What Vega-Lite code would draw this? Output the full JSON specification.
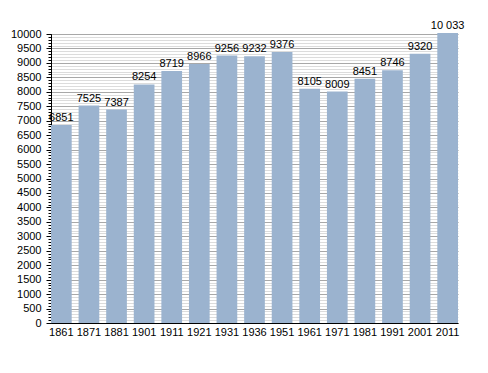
{
  "$schema": "https://vega.github.io/schema/vega-lite/v6.json",
  "autosize": {"type": "none"},
  "padding": {"left": 51, "top": 34, "right": 30, "bottom": 50},
  "width": 407,
  "height": 289,
  "background": "white",
  "config": {"view": {"stroke": null}, "font": "Liberation Sans"},
  "data": {"values": [
    {"year": "1861", "pop": 6851, "label": "6851"},
    {"year": "1871", "pop": 7525, "label": "7525"},
    {"year": "1881", "pop": 7387, "label": "7387"},
    {"year": "1901", "pop": 8254, "label": "8254"},
    {"year": "1911", "pop": 8719, "label": "8719"},
    {"year": "1921", "pop": 8966, "label": "8966"},
    {"year": "1931", "pop": 9256, "label": "9256"},
    {"year": "1936", "pop": 9232, "label": "9232"},
    {"year": "1951", "pop": 9376, "label": "9376"},
    {"year": "1961", "pop": 8105, "label": "8105"},
    {"year": "1971", "pop": 8009, "label": "8009"},
    {"year": "1981", "pop": 8451, "label": "8451"},
    {"year": "1991", "pop": 8746, "label": "8746"},
    {"year": "2001", "pop": 9320, "label": "9320"},
    {"year": "2011", "pop": 10033, "label": "10 033"}
  ]},
  "resolve": {"axis": {"y": "independent"}},
  "encoding": {
    "x": {"field": "year", "type": "ordinal", "sort": null,
      "scale": {"paddingInner": 0.25, "paddingOuter": 0},
      "axis": {"title": null, "labelAngle": 0, "ticks": false, "domainColor": "black", "labelColor": "black", "labelFontSize": 11, "labelPadding": 3, "grid": false}}
  },
  "layer": [
    {
      "mark": {"type": "rule", "opacity": 0},
      "encoding": {
        "y": {"field": "pop", "type": "quantitative",
          "scale": {"domain": [0, 10000], "nice": false},
          "axis": {"orient": "left", "title": null, "values": [0,100,200,300,400,500,600,700,800,900,1000,1100,1200,1300,1400,1500,1600,1700,1800,1900,2000,2100,2200,2300,2400,2500,2600,2700,2800,2900,3000,3100,3200,3300,3400,3500,3600,3700,3800,3900,4000,4100,4200,4300,4400,4500,4600,4700,4800,4900,5000,5100,5200,5300,5400,5500,5600,5700,5800,5900,6000,6100,6200,6300,6400,6500,6600,6700,6800,6900,7000,7100,7200,7300,7400,7500,7600,7700,7800,7900,8000,8100,8200,8300,8400,8500,8600,8700,8800,8900,9000,9100,9200,9300,9400,9500,9600,9700,9800,9900,10000],
            "labels": false, "domain": false, "tickSize": 3, "tickColor": "black", "grid": true, "gridColor": "#dcdcdc", "gridWidth": 1}}
      }
    },
    {
      "mark": {"type": "rule", "opacity": 0},
      "encoding": {
        "y": {"field": "pop", "type": "quantitative",
          "scale": {"domain": [0, 10000], "nice": false},
          "axis": {"orient": "left", "title": null, "format": "d", "values": [0,500,1000,1500,2000,2500,3000,3500,4000,4500,5000,5500,6000,6500,7000,7500,8000,8500,9000,9500,10000],
            "domainColor": "black", "tickColor": "black", "tickSize": 5, "labelColor": "black", "labelFontSize": 11, "labelPadding": 5, "grid": true, "gridColor": "#a8a8a8", "gridWidth": 1}}
      }
    },
    {
      "mark": {"type": "bar", "color": "#9bb3cf"},
      "encoding": {"y": {"field": "pop", "type": "quantitative", "scale": {"domain": [0, 10000], "nice": false}, "axis": null}}
    },
    {
      "mark": {"type": "text", "baseline": "bottom", "dy": -2, "fontSize": 11, "color": "black"},
      "encoding": {
        "y": {"field": "pop", "type": "quantitative", "scale": {"domain": [0, 10000], "nice": false}, "axis": null},
        "text": {"field": "label"}
      }
    }
  ]
}
